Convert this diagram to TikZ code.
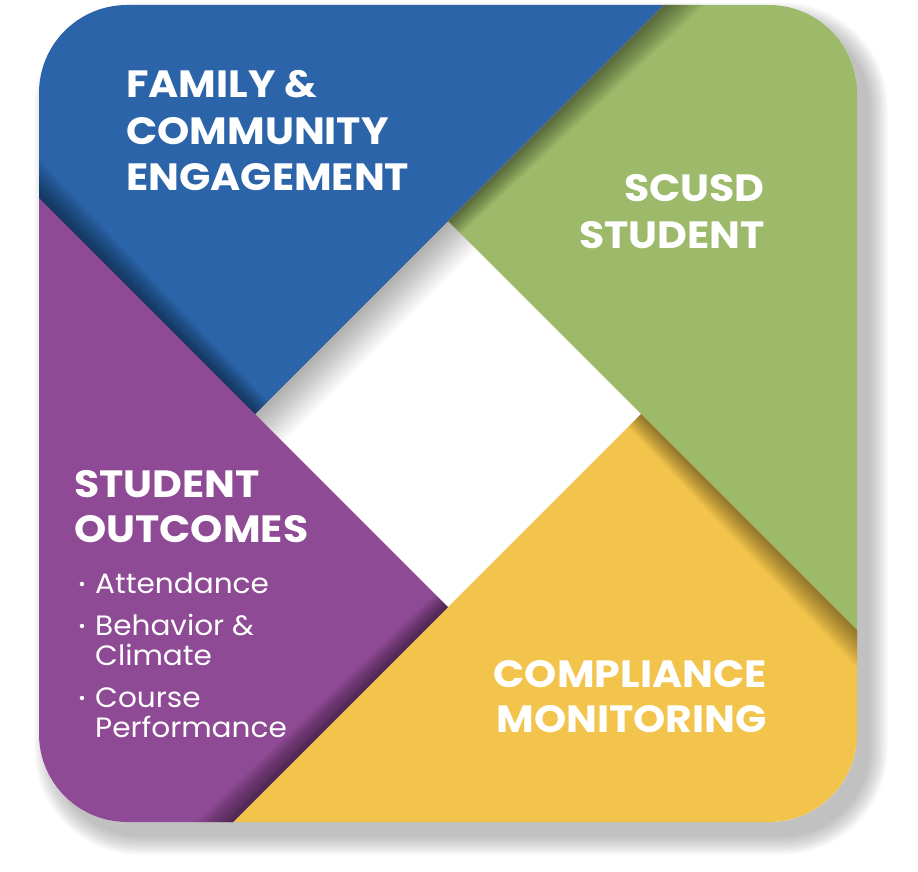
\documentclass[tikz,border=0pt]{standalone}
\usepackage{fontspec}
\setmainfont{Poppins}
\newfontfamily\headfont{Poppins}[FakeStretch=1.08]
\newfontfamily\itemfont{Poppins}[FakeStretch=1.055]
\definecolor{cblue}{RGB}{43,100,168}
\definecolor{cgreen}{RGB}{156,186,105}
\definecolor{cyellow}{RGB}{242,196,75}
\definecolor{cpurple}{RGB}{142,74,148}
\newcommand\myshadow[9]{%
  \foreach \k in {1,...,14}{%
    \pgfmathsetmacro\ai{#7*\k/14}%
    \pgfmathsetmacro\ao{#8*\k/14}%
    \fill[black,opacity=#9] (#1,#2) -- (#3,#4) -- ({#3+#5*\ao},{#4+#6*\ao}) -- ({#1+#5*\ai},{#2+#6*\ai}) -- cycle;
  }}
\begin{document}
\begin{tikzpicture}[x=1pt,y=-1pt,
  head/.style={text=white,font=\headfont\bfseries\fontsize{38}{45}\selectfont,inner sep=0pt},
  item/.style={text=white,font=\itemfont\fontsize{28}{30}\selectfont,inner sep=0pt},
  dot/.style={text=white,font=\fontsize{18}{20}\selectfont,inner sep=0pt}]
\useasboundingbox (0,0) rectangle (918,872);
% soft drop shadow
\foreach \i in {0,...,17}{%
  \pgfmathsetmacro\e{18-\i*1.1}%
  \pgfmathsetmacro\r{88+\e}%
  \fill[black,opacity=0.015,rounded corners=\r pt] ({39+13-\e},{5+15-\e}) rectangle ({857+13+\e},{822+15+\e});
}
\begin{scope}
  \clip[rounded corners=88pt] (39,5) rectangle (857,822);
  \fill[white] (39,5) rectangle (857,822);
  \fill[cblue]   (-50,-50) -- (719,-50) -- (448,221) -- (255,414) -- (-50,109) -- cycle;
  \fill[cgreen]  (719,-50) -- (970,-50) -- (970,743) -- (641,414) -- (448,221) -- cycle;
  \fill[cyellow] (970,743) -- (970,950) -- (105,950) -- (448,607) -- (641,414) -- cycle;
  \fill[cpurple] (105,950) -- (-50,950) -- (-50,109) -- (255,414) -- (448,607) -- cycle;
  % inner shadows
  \myshadow{255}{414}{-50}{109}{0.7071}{-0.7071}{18}{30}{0.035}
  \myshadow{448}{221}{719}{-50}{0.7071}{0.7071}{18}{30}{0.035}
  \myshadow{641}{414}{970}{743}{-0.7071}{0.7071}{18}{30}{0.03}
  \myshadow{448}{607}{105}{950}{-0.7071}{-0.7071}{18}{30}{0.035}
  \myshadow{255}{414}{448}{221}{0.7071}{0.7071}{40}{40}{0.022}
\end{scope}
% headings
\node[head,anchor=base west] (fam1) at (126,98)  {FAMILY \&};
\node[head,anchor=base west] (fam2) at (126,144) {COMMUNITY};
\node[head,anchor=base west] (fam3) at (126,190) {ENGAGEMENT};
\node[head,anchor=base east] (sc1)  at (765,201) {SCUSD};
\node[head,anchor=base east] (sc2)  at (765,248) {STUDENT};
\node[head,anchor=base west] (so1)  at (74,497)  {STUDENT};
\node[head,anchor=base west] (so2)  at (74,542)  {OUTCOMES};
\node[head,anchor=base east] (cm1)  at (767,687) {COMPLIANCE};
\node[head,anchor=base east] (cm2)  at (767,732) {MONITORING};
% bullet list
\node[dot,anchor=base] (d1) at (82,590) {•};
\node[dot,anchor=base] (d2) at (82,632) {•};
\node[dot,anchor=base] (d3) at (82,704) {•};
\node[item,anchor=base west] (b1)  at (95,593) {Attendance};
\node[item,anchor=base west] (b2a) at (95,635) {Behavior \&};
\node[item,anchor=base west] (b2b) at (95,665) {Climate};
\node[item,anchor=base west] (b3a) at (95,707) {Course};
\node[item,anchor=base west] (b3b) at (95,737) {Performance};
\end{tikzpicture}
\end{document}
